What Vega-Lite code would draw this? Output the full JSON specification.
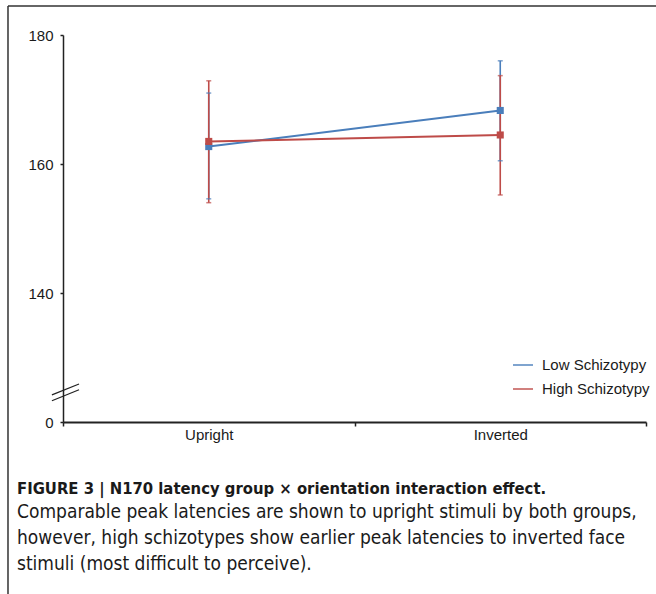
{
  "$schema": "https://vega.github.io/schema/vega-lite/v6.json",
  "width": 583,
  "height": 387,
  "autosize": {"type": "none"},
  "padding": {"left": 63, "top": 35, "right": 10, "bottom": 172},
  "background": "white",
  "config": {
    "view": {"stroke": null},
    "font": "Liberation Sans",
    "axisY": {
      "title": null,
      "grid": false,
      "tickSize": 3,
      "tickColor": "#222",
      "tickWidth": 1.5,
      "domainColor": "#222",
      "domainWidth": 1.5,
      "labelFont": "Liberation Sans",
      "labelFontSize": 15,
      "labelColor": "#1a1a1a",
      "labelPadding": 7
    }
  },
  "title": {
    "text": "FIGURE 3 | N170 latency group × orientation interaction effect.",
    "subtitle": [
      "Comparable peak latencies are shown to upright stimuli by both groups,",
      "however, high schizotypes show earlier peak latencies to inverted face",
      "stimuli (most difficult to perceive)."
    ],
    "orient": "bottom",
    "anchor": "start",
    "frame": "group",
    "dx": -46,
    "offset": -114,
    "font": "'DejaVu Sans Condensed', 'Liberation Sans'",
    "fontSize": 16.5,
    "fontWeight": "bold",
    "color": "#1a1a1a",
    "subtitleFont": "'DejaVu Sans Condensed', 'Liberation Sans'",
    "subtitleFontSize": 19,
    "subtitleColor": "#1a1a1a",
    "subtitleLineHeight": 26,
    "subtitlePadding": 6
  },
  "datasets": {
    "stats": [
      {"group": "Low Schizotypy", "orientation": "Upright", "mean": 162.7, "lo": 154.6, "hi": 171.0},
      {"group": "Low Schizotypy", "orientation": "Inverted", "mean": 168.3, "lo": 160.5, "hi": 176.0},
      {"group": "High Schizotypy", "orientation": "Upright", "mean": 163.5, "lo": 154.0, "hi": 172.9},
      {"group": "High Schizotypy", "orientation": "Inverted", "mean": 164.5, "lo": 155.2, "hi": 173.7}
    ],
    "axisbreak": [
      {"x1": -0.038, "x2": 0.055, "y1": 124.2, "y2": 125.9},
      {"x1": -0.038, "x2": 0.055, "y1": 123.3, "y2": 125.0}
    ],
    "frame": [
      {"x1": -0.1887, "x2": 2.05, "y1": 184.5, "y2": 184.5},
      {"x1": -0.1887, "x2": -0.1887, "y1": 184.5, "y2": 93.3}
    ]
  },
  "layer": [
    {
      "data": {"name": "stats"},
      "encoding": {
        "x": {
          "field": "orientation",
          "type": "nominal",
          "scale": {"type": "band", "domain": ["Upright", "Inverted"], "paddingInner": 0, "paddingOuter": 0},
          "axis": {
            "title": null,
            "labelAngle": 0,
            "tickBand": "extent",
            "tickSize": 4,
            "tickColor": "#222",
            "tickWidth": 1.5,
            "domainColor": "#222",
            "domainWidth": 2,
            "labelFont": "Liberation Sans",
            "labelFontSize": 15,
            "labelColor": "#1a1a1a",
            "labelPadding": 1
          }
        },
        "color": {
          "field": "group",
          "type": "nominal",
          "scale": {"domain": ["Low Schizotypy", "High Schizotypy"], "range": ["#4a7ebb", "#be4b48"]},
          "legend": {
            "title": null,
            "orient": "none",
            "legendX": 449,
            "legendY": 319,
            "padding": 0,
            "symbolType": "stroke",
            "symbolSize": 400,
            "symbolStrokeWidth": 2,
            "labelFont": "Liberation Sans",
            "labelFontSize": 15,
            "labelColor": "#1a1a1a",
            "labelOffset": 8,
            "labelLimit": 300,
            "rowPadding": 5
          }
        }
      },
      "layer": [
        {
          "mark": {"type": "rule", "strokeWidth": 1.6},
          "encoding": {
            "y": {
              "field": "lo",
              "type": "quantitative",
              "scale": {"domain": [120, 180], "nice": false, "zero": false},
              "axis": {"values": [120, 140, 160, 180], "labelExpr": "datum.value == 120 ? '0' : datum.label"}
            },
            "y2": {"field": "hi"}
          }
        },
        {
          "mark": {"type": "tick", "orient": "horizontal", "size": 5, "thickness": 1.5},
          "encoding": {"y": {"field": "lo", "type": "quantitative", "axis": {"values": [120, 140, 160, 180], "labelExpr": "datum.value == 120 ? '0' : datum.label"}}}
        },
        {
          "mark": {"type": "tick", "orient": "horizontal", "size": 5, "thickness": 1.5},
          "encoding": {"y": {"field": "hi", "type": "quantitative", "axis": {"values": [120, 140, 160, 180], "labelExpr": "datum.value == 120 ? '0' : datum.label"}}}
        },
        {
          "mark": {"type": "line", "strokeWidth": 2},
          "encoding": {"y": {"field": "mean", "type": "quantitative", "axis": {"values": [120, 140, 160, 180], "labelExpr": "datum.value == 120 ? '0' : datum.label"}}}
        },
        {
          "mark": {"type": "point", "shape": "square", "filled": true, "size": 50, "opacity": 1},
          "encoding": {"y": {"field": "mean", "type": "quantitative", "axis": {"values": [120, 140, 160, 180], "labelExpr": "datum.value == 120 ? '0' : datum.label"}}}
        }
      ]
    },
    {
      "data": {"name": "axisbreak"},
      "mark": {"type": "rule", "color": "#222", "strokeWidth": 1.2},
      "encoding": {
        "x": {"field": "x1", "type": "quantitative", "scale": {"domain": [0, 2], "nice": false, "zero": false}, "axis": null},
        "x2": {"field": "x2"},
        "y": {"field": "y1", "type": "quantitative", "axis": {"values": [120, 140, 160, 180], "labelExpr": "datum.value == 120 ? '0' : datum.label"}},
        "y2": {"field": "y2"}
      }
    },
    {
      "data": {"name": "frame"},
      "mark": {"type": "rule", "color": "#333", "strokeWidth": 1.5},
      "encoding": {
        "x": {"field": "x1", "type": "quantitative", "scale": {"domain": [0, 2], "nice": false, "zero": false}, "axis": null},
        "x2": {"field": "x2"},
        "y": {"field": "y1", "type": "quantitative", "axis": {"values": [120, 140, 160, 180], "labelExpr": "datum.value == 120 ? '0' : datum.label"}},
        "y2": {"field": "y2"}
      }
    }
  ],
  "resolve": {"scale": {"x": "independent"}}
}
